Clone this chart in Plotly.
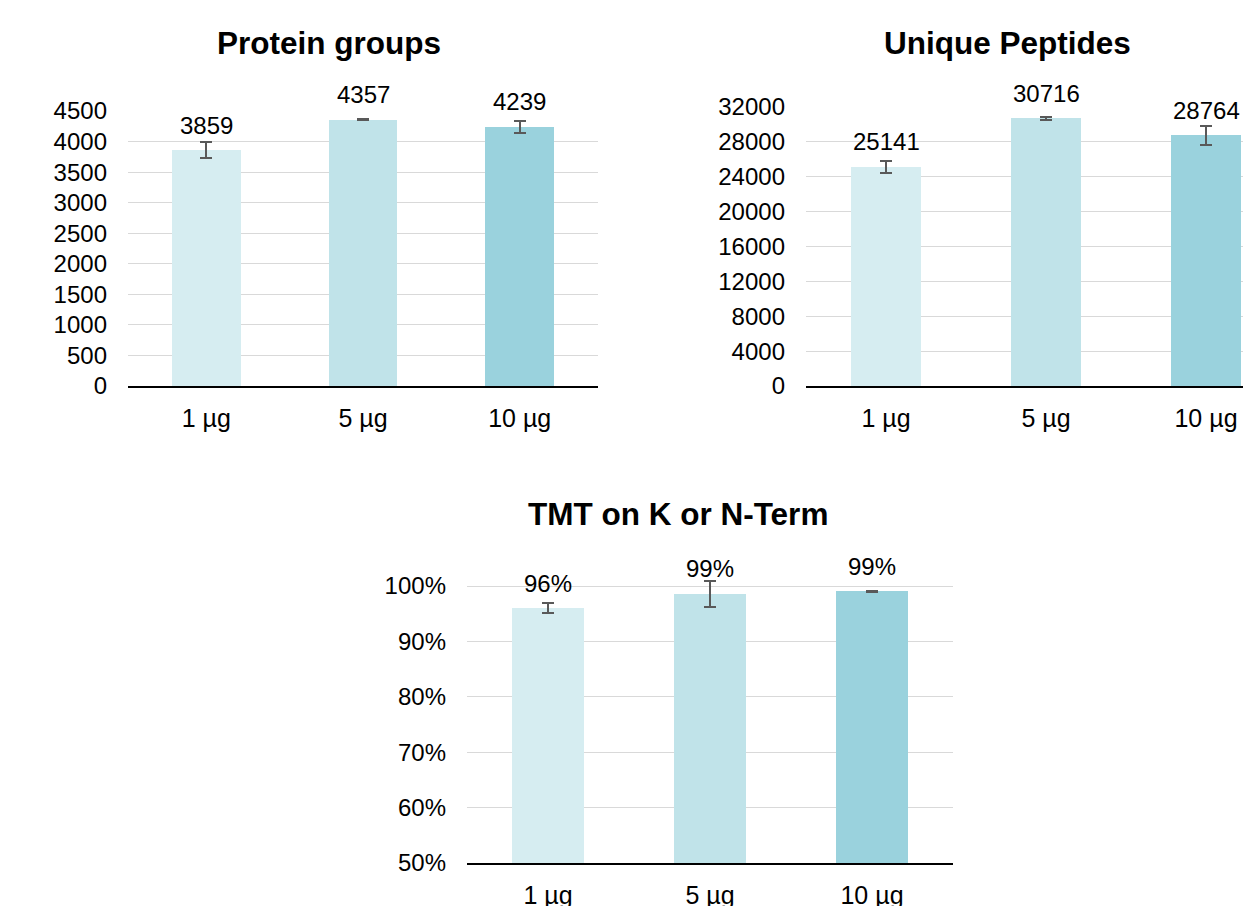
import plotly.graph_objects as go

categories = ["1 µg", "5 µg", "10 µg"]
bar_colors = ["#D6EDF1", "#C0E3E9", "#9AD2DD"]

protein_groups = [3859, 4357, 4239]
protein_err = [130, 5, 93]

unique_peptides = [25141, 30716, 28764]
peptides_err = [710, 190, 1110]

tmt_pct = [96.0, 98.6, 99.1]
tmt_err = [0.9, 2.3, 0.1]

protein_ticks = list(range(0, 4501, 500))
peptide_ticks = list(range(0, 32001, 4000))
tmt_ticks = [50, 60, 70, 80, 90, 100]

FONT = "Liberation Sans, Arial, sans-serif"
W, H = 1251, 906
OFF = 8  # page body margin

fig = go.Figure()

panels = [
    dict(vals=protein_groups, err=protein_err, xa="x", ya="y",
         labels=[str(v) for v in protein_groups]),
    dict(vals=unique_peptides, err=peptides_err, xa="x2", ya="y2",
         labels=[str(v) for v in unique_peptides]),
    dict(vals=tmt_pct, err=tmt_err, xa="x3", ya="y3",
         labels=[f"{v:.0f}%" for v in tmt_pct]),
]

annotations = []
for p in panels:
    fig.add_trace(go.Bar(
        x=categories, y=p["vals"], xaxis=p["xa"], yaxis=p["ya"],
        marker=dict(color=bar_colors, line=dict(width=0)),
        width=0.44,
        error_y=dict(type="data", array=p["err"], visible=True,
                     color="#595959", thickness=2, width=6),
        showlegend=False, hoverinfo="skip",
    ))
    for c, v, t in zip(categories, p["vals"], p["labels"]):
        annotations.append(dict(
            x=c, y=v, xref=p["xa"], yref=p["ya"], text=t, showarrow=False,
            yanchor="middle", yshift=25, font=dict(size=24, color="#000000", family=FONT),
        ))

def px(xpix):
    return (xpix - OFF) / W

def py(ypix):
    return (H - (ypix - OFF)) / H

titles = [("Protein groups", 329, 43), ("Unique Peptides", 1007, 43), ("TMT on K or N-Term", 678, 514)]
for t, xp, yp in titles:
    annotations.append(dict(
        x=px(xp), y=py(yp), xref="paper", yref="paper", text=f"<b>{t}</b>",
        showarrow=False, xanchor="center", yanchor="middle",
        font=dict(size=31.5, color="#000000", family=FONT),
    ))

xcommon = dict(type="category", showline=True, linecolor="#000000", linewidth=1.8,
               showgrid=False, ticks="", tickfont=dict(size=25, color="#000000", family=FONT),
               ticklabelstandoff=9, fixedrange=True, automargin=False)
ycommon = dict(showgrid=True, gridcolor="#D9D9D9", gridwidth=1, zeroline=False,
               showline=False, ticks="", tickfont=dict(size=24, color="#000000", family=FONT),
               ticklabelstandoff=20, fixedrange=True, automargin=False)

fig.update_layout(
    width=W, height=H,
    margin=dict(l=0, r=0, t=0, b=0, autoexpand=False),
    paper_bgcolor="white", plot_bgcolor="white",
    bargap=0,
    xaxis=dict(**xcommon, domain=[px(128), px(598)], range=[-0.5, 2.5], anchor="y"),
    yaxis=dict(**ycommon, domain=[py(386), py(111)], range=[0, 4500],
               tickvals=protein_ticks, ticktext=[str(v) for v in protein_ticks], anchor="x"),
    xaxis2=dict(**xcommon, domain=[px(806), 1.0],
                range=[-0.5, -0.5 + (W + OFF - 806) / 160], anchor="y2"),
    yaxis2=dict(**ycommon, domain=[py(386), py(107)], range=[0, 32000],
                tickvals=peptide_ticks, ticktext=[str(v) for v in peptide_ticks], anchor="x2"),
    xaxis3=dict(**xcommon, domain=[px(467), px(953)], range=[-0.5, 2.5], anchor="y3"),
    yaxis3=dict(**ycommon, domain=[py(863), py(575)], range=[50, 102],
                tickvals=tmt_ticks, ticktext=[f"{v}%" for v in tmt_ticks], anchor="x3"),
    annotations=annotations,
)

fig.write_html("out.html")
